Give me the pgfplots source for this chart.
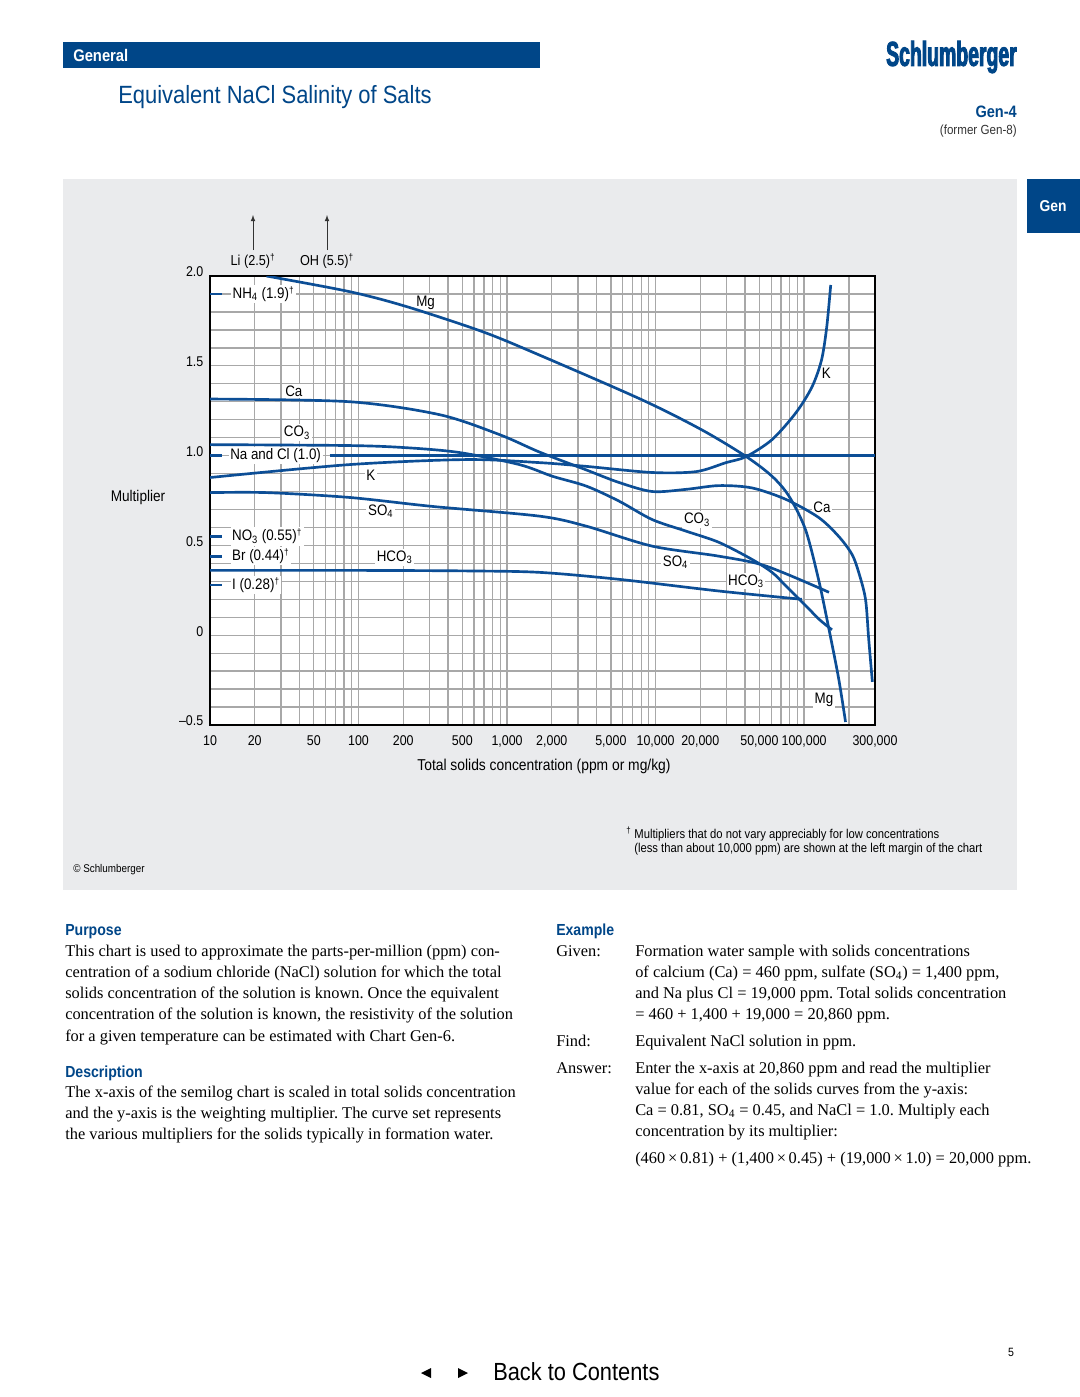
\documentclass[border=0pt]{standalone}
\usepackage{pgfplots}
\pgfplotsset{compat=1.18}
\usepackage{fontspec}
\setmainfont{Liberation Sans}[FakeStretch=0.88]
\newfontfamily\logofont{Liberation Sans}[FakeStretch=0.56,FakeBold=2.5]
\newfontfamily\serif{Liberation Serif}
\definecolor{slbblue}{RGB}{0,70,136}
\definecolor{curve}{RGB}{12,78,150}
\definecolor{panel}{RGB}{234,235,237}
\definecolor{gridc}{RGB}{168,168,168}
\newcommand\fs[1]{\fontsize{#1}{#1}\selectfont}
\newcommand\Ln[3]{\node[anchor=base west,inner sep=0] at (#1,#2) {#3};}
\tikzset{lab/.style={font=\fs{11.4},fill=white,inner sep=1.2pt}}
\frenchspacing

\begin{document}
\begin{tikzpicture}
\path[use as bounding box] (0,0) rectangle (810pt,-1047.75pt);
\fill[white] (0,0) rectangle (810pt,-1047.75pt);

% page furniture, 1 unit = 1 px of the page
\begin{scope}[x=0.75pt,y=-0.75pt]
  \fill[slbblue] (63,42) rectangle (540,68);
  \node[anchor=west,text=white,inner sep=0] at (73,55) {\fs{12.6}\bfseries General};
  \node[anchor=west,text=slbblue,inner sep=0] at (118,97) {\fs{18.7}Equivalent NaCl Salinity of Salts};
  \node[anchor=east,text=slbblue,inner sep=0] at (1017,57) {\logofont\fs{26}\bfseries Schlumberger};
  \node[anchor=east,text=slbblue,inner sep=0] at (1017,112) {\fs{12.4}\bfseries Gen-4};
  \node[anchor=east,text=black!80,inner sep=0] at (1017,131) {\fs{9.9}(former Gen-8)};
  \fill[panel] (63,179) rectangle (1017,890);
  \fill[slbblue] (1027,179) rectangle (1080,233);
  \node[text=white,inner sep=0] at (1053,206) {\fs{11.8}\bfseries Gen};

  % constant multipliers above the chart
  \draw[black!80,line width=0.6pt,-latex] (253,250) -- (253,215);
  \draw[black!80,line width=0.6pt,-latex] (327,250) -- (327,215);
  \node[inner sep=0] at (253,261) {\fs{10.8}Li (2.5)\textsuperscript{\fs{7}†}};
  \node[inner sep=0] at (327,261) {\fs{10.8}OH (5.5)\textsuperscript{\fs{7}†}};

  \node[inner sep=0] at (138,497) {\fs{11.6}Multiplier};
  \node[inner sep=0] at (544,766) {\fs{11.8}Total solids concentration (ppm or mg/kg)};

  \node[anchor=base west,inner sep=0] at (626,838) {\fs{9.6}\textsuperscript{†} Multipliers that do not vary appreciably for low concentrations};
  \node[anchor=base west,inner sep=0] at (634,852) {\fs{9.6}(less than about 10,000 ppm) are shown at the left margin of the chart};
  \node[anchor=base west,inner sep=0] at (73,872) {\fs{8.4}© Schlumberger};

  % text columns
  \begin{scope}[text=slbblue,font=\fs{12}\bfseries]
    \Ln{65}{935}{Purpose}
    \Ln{65}{1077}{Description}
    \Ln{556}{935}{Example}
  \end{scope}
  \begin{scope}[font=\serif\fs{12.3}]
    \Ln{65}{956}{This chart is used to approximate the parts-per-million (ppm) con-}
    \Ln{65}{977}{centration of a sodium chloride (NaCl) solution for which the total}
    \Ln{65}{998}{solids concentration of the solution is known. Once the equivalent}
    \Ln{65}{1019}{concentration of the solution is known, the resistivity of the solution}
    \Ln{65}{1041}{for a given temperature can be estimated with Chart Gen-6.}
    \Ln{65}{1097}{The x-axis of the semilog chart is scaled in total solids concentration}
    \Ln{65}{1118}{and the y-axis is the weighting multiplier. The curve set represents}
    \Ln{65}{1139}{the various multipliers for the solids typically in formation water.}

    \Ln{556}{956}{Given:}
    \Ln{635}{956}{Formation water sample with solids concentrations}
    \Ln{635}{977}{of calcium (Ca) = 460 ppm, sulfate (SO\textsubscript{4}) = 1,400 ppm,}
    \Ln{635}{998}{and Na plus Cl = 19,000 ppm. Total solids concentration}
    \Ln{635}{1019}{= 460 + 1,400 + 19,000 = 20,860 ppm.}
    \Ln{556}{1046}{Find:}
    \Ln{635}{1046}{Equivalent NaCl solution in ppm.}
    \Ln{556}{1073}{Answer:}
    \Ln{635}{1073}{Enter the x-axis at 20,860 ppm and read the multiplier}
    \Ln{635}{1094}{value for each of the solids curves from the y-axis:}
    \Ln{635}{1115}{Ca = 0.81, SO\textsubscript{4} = 0.45, and NaCl = 1.0. Multiply each}
    \Ln{635}{1136}{concentration by its multiplier:}
    \Ln{635}{1163}{(460\,×\,0.81) + (1,400\,×\,0.45) + (19,000\,×\,1.0) = 20,000 ppm.}
  \end{scope}

  \fill[black] (421,1373) -- (431,1368) -- (431,1378) -- cycle;
  \fill[black] (468,1373) -- (458,1368) -- (458,1378) -- cycle;
  \node[anchor=west,inner sep=0] at (493,1372) {\fs{18.6}Back to Contents};
  \node[inner sep=0] at (1011,1352) {\fs{9}5};
\end{scope}

\begin{axis}[
  at={(157.5pt,-543.75pt)}, anchor=south west,
  scale only axis, width=498.75pt, height=336.75pt,
  xmode=log, xmin=10, xmax=300000, ymin=-0.5, ymax=2,
  axis background/.style={fill=white},
  axis line style={line width=1.2pt,black},
  xtick={10,20,30,40,50,60,70,80,90,100,200,300,400,500,600,700,800,900,
         1000,2000,3000,4000,5000,6000,7000,8000,9000,
         10000,20000,30000,40000,50000,60000,70000,80000,90000,100000,200000,300000},
  xticklabels={10,20,,,50,,,,,100,200,,,500,,,,,{1,000},{2,000},,,{5,000},,,,,
               {10,000},{20,000},,,{50,000},,,,,{100,000},,{300,000}},
  ytick={-0.5,0,0.5,1,1.5,2},
  yticklabels={–0.5,0,0.5,1.0,1.5,2.0},
  minor y tick num=4,
  grid=both,
  major grid style={gridc,line width=1pt},
  minor grid style={gridc,line width=1pt},
  major tick length=0pt, minor tick length=0pt,
  xticklabel style={font=\fs{10.6},yshift=-4.5pt},
  yticklabel style={font=\fs{10.6},yshift=3pt,xshift=-1.5pt},
  cv/.style={curve,line width=2pt,mark=none},
]
% labels first, so the curves lie over their white boxes
\node[lab,anchor=west] at (axis cs:13.8,1.9) {NH\textsubscript{4} (1.9)\textsuperscript{\fs{7}†}};
\node[lab,anchor=west] at (axis cs:13.3,1.0) {Na and Cl (1.0)};
\node[lab,anchor=west] at (axis cs:13.7,0.55) {NO\textsubscript{3} (0.55)\textsuperscript{\fs{7}†}};
\node[lab,anchor=west] at (axis cs:13.7,0.44) {Br (0.44)\textsuperscript{\fs{7}†}};
\node[lab,anchor=west] at (axis cs:13.7,0.28) {I (0.28)\textsuperscript{\fs{7}†}};
\node[lab] at (axis cs:283,1.85) {Mg};
\node[lab] at (axis cs:36.7,1.36) {Ca};
\node[lab] at (axis cs:38.5,1.128) {CO\textsubscript{3}};
\node[lab] at (axis cs:121,0.889) {K};
\node[lab] at (axis cs:141,0.689) {SO\textsubscript{4}};
\node[lab] at (axis cs:175,0.433) {HCO\textsubscript{3}};
\node[lab] at (axis cs:141000,1.461) {K};
\node[lab] at (axis cs:132000,0.711) {Ca};
\node[lab] at (axis cs:19000,0.644) {CO\textsubscript{3}};
\node[lab] at (axis cs:13600,0.406) {SO\textsubscript{4}};
\node[lab] at (axis cs:40600,0.30) {HCO\textsubscript{3}};
\node[lab] at (axis cs:136000,-0.361) {Mg};

% constant multipliers at the left margin
\addplot[cv] coordinates {(10,1.9) (12.1,1.9)};
\addplot[cv] coordinates {(10,0.55) (12.1,0.55)};
\addplot[cv] coordinates {(10,0.44) (12.1,0.44)};
\addplot[cv] coordinates {(10,0.28) (12.1,0.28)};
% Na and Cl
\addplot[cv] coordinates {(10,1) (12.1,1)};
\addplot[cv] coordinates {(64,1) (300000,1)};
% Mg
\addplot[cv,smooth] coordinates {
 (24,2.0) (87,1.913) (210,1.83) (684,1.69) (1650,1.56) (8130,1.31) (20400,1.144)
 (40500,0.996) (60800,0.885) (79100,0.774) (102000,0.589) (125000,0.311)
 (147000,0.033) (171000,-0.244) (190000,-0.483)};
% Ca
\addplot[cv,smooth] coordinates {
 (10,1.315) (87,1.30) (351,1.228) (889,1.117) (1650,1.02) (3420,0.92) (5690,0.85)
 (9480,0.80) (16000,0.812) (26700,0.833) (44600,0.82) (75500,0.756) (125000,0.656)
 (171000,0.55) (210000,0.45) (233000,0.35) (259000,0.2) (272000,-0.02) (288000,-0.26)};
% K
\addplot[cv,smooth] coordinates {
 (10,0.878) (87,0.95) (533,0.978) (1650,0.961) (3420,0.94) (9480,0.906) (18800,0.911)
 (29800,0.961) (40600,0.994) (60800,1.089) (88100,1.239) (113000,1.383)
 (131000,1.533) (142000,1.717) (151000,1.95)};
% CO3
\addplot[cv,smooth] coordinates {
 (10,1.061) (87,1.056) (210,1.044) (479,1.017) (1210,0.95) (2020,0.885) (3420,0.83)
 (5690,0.746) (9480,0.644) (16100,0.579) (26700,0.517) (44600,0.422) (60800,0.35)
 (75500,0.274) (103000,0.163) (126000,0.089) (154000,0.03)};
% SO4
\addplot[cv,smooth] coordinates {
 (10,0.794) (24,0.794) (87,0.767) (315,0.717) (1650,0.663) (3420,0.607) (9480,0.496)
 (26700,0.44) (55400,0.385) (147000,0.239)};
% HCO3
\addplot[cv,smooth] coordinates {
 (10,0.361) (87,0.361) (533,0.358) (1650,0.35) (5690,0.311) (26700,0.246) (96600,0.2)};

% right-hand scale
\node[anchor=west,font=\fs{10.6},yshift=3.5pt] at (axis cs:300000,2) {2.0};
\node[anchor=west,font=\fs{10.6},yshift=4.5pt] at (axis cs:300000,1) {1.0};
\node[anchor=west,font=\fs{10.6},yshift=3pt] at (axis cs:300000,0) {0};
\end{axis}
\end{tikzpicture}
\end{document}
